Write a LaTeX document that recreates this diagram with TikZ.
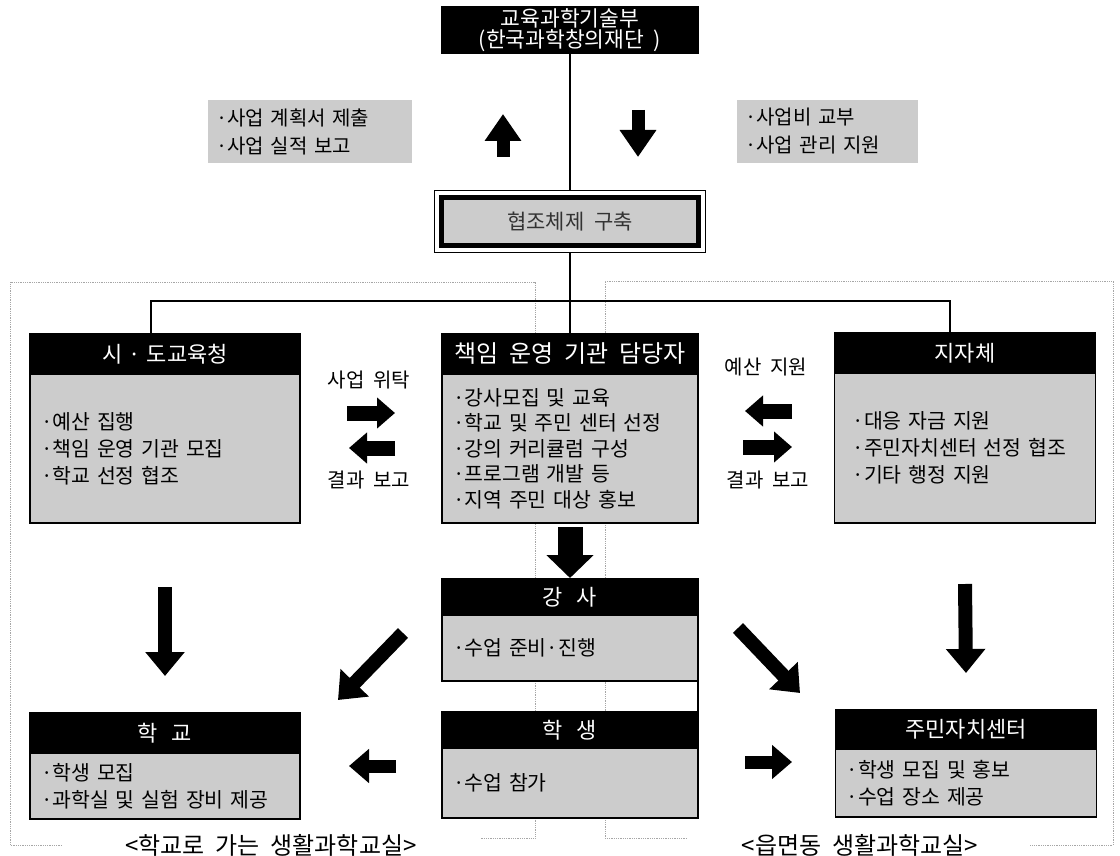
\documentclass[tikz,border=0pt]{standalone}
\usepackage{fontspec}
\setmainfont{Noto Sans CJK KR}[WordSpace=2]
\usetikzlibrary{positioning,arrows.meta}
\definecolor{halftone}{gray}{0.80}
\newcommand{\hdrfont}{\fontsize{22}{24}\selectfont}
\newcommand{\itemfont}{\fontsize{20.5}{27}\selectfont}
\newcommand{\capfont}{\fontsize{24}{26}\selectfont}

\begin{document}
\begin{tikzpicture}[x=1pt,y=-1pt,
  hdr/.style={fill=black, draw=black, line width=1.5pt, text=white, font=\hdrfont, inner sep=0pt, outer sep=0pt},
  bodybox/.style={fill=halftone, draw=black, line width=1.5pt, font=\itemfont, align=left, inner xsep=11pt, inner ysep=0pt, outer sep=0pt},
  labelbox/.style={fill=halftone, font=\fontsize{20}{28}\selectfont, align=left, inner xsep=8pt, inner ysep=0pt},
  flowtext/.style={font=\fontsize{20}{22}\selectfont},
  conn/.style={line width=2.5pt},
  region/.style={gray!70, densely dotted, line width=0.8pt},
  fatarrow/.style={line width=14pt, -{Triangle[width=38pt,length=24pt]}},
  widearrow/.style={line width=25pt, -{Triangle[width=46pt,length=23pt]}},
  toparrow/.style={line width=13pt, -{Triangle[width=35pt,length=27pt]}},
  sidearrow/.style={line width=15pt, -{Triangle[width=30pt,length=18pt]}},
  lowarrow/.style={line width=13pt, -{Triangle[width=33pt,length=20pt]}}]
\useasboundingbox (0,0) rectangle (1120,856);

% ---- dotted regions
\draw[region] (62,845) -- (10,845) -- (10,282) -- (535,282) -- (535,838) -- (480,838);
\draw[region] (687,838) -- (605,838) -- (605,281) -- (1113,281) -- (1113,845) -- (1030,845);

% ---- ministry and cooperation box
\node[hdr, minimum width=256pt, minimum height=46pt, align=center, font=\fontsize{21.5}{21}\selectfont] (mest) at (570,30) {교육과학기술부\\(한국과학창의재단 )};
\node[labelbox, text width=188pt, minimum height=63pt] (plan) at (310,131.5) {·사업 계획서 제출\\·사업 실적 보고};
\node[labelbox, text width=165pt, minimum height=63pt] (fund) at (827.5,131.5) {·사업비 교부\\·사업 관리 지원};
\coordinate (up1) at (503,157);
\coordinate (up2) at (503,114);
\coordinate (dn1) at (638,110);
\coordinate (dn2) at (638,157);
\draw[toparrow] (up1) -- (up2);
\draw[toparrow] (dn1) -- (dn2);

\node[fill=halftone, draw=black, line width=5pt, minimum width=257pt, minimum height=48pt, outer sep=0pt, text=black!80, font=\fontsize{21}{24}\selectfont] (hyup) at (570,221.5) {협조체제 구축};
\draw[line width=1.6pt] ([xshift=-7pt,yshift=7pt]hyup.north west) rectangle ([xshift=7pt,yshift=-7pt]hyup.south east);

% ---- three upper boxes
\node[hdr, minimum width=270pt, minimum height=40pt] (sido) at (165,354) {시\hspace{6pt}·\hspace{6pt}도교육청};
\node[bodybox, text width=248pt, minimum height=149pt, below=0pt of sido] (sidob) {·예산 집행\\·책임 운영 기관 모집\\·학교 선정 협조};

\node[hdr, font=\fontsize{24}{26}\selectfont, minimum width=256pt, minimum height=40pt] (chaek) at (570,354) {책임 운영 기관 담당자};
\node[bodybox, font=\fontsize{20.5}{25.5}\selectfont, text width=234pt, minimum height=149pt, below=0pt of chaek] (chaekb) {·강사모집 및 교육\\·학교 및 주민 센터 선정\\·강의 커리큘럼 구성\\·프로그램 개발 등\\·지역 주민 대상 홍보};

\node[hdr, minimum width=261pt, minimum height=40pt] (jija) at (965,353) {지자체};
\node[bodybox, inner xsep=18pt, text width=225pt, minimum height=150pt, below=0pt of jija] (jijab) {·대응 자금 지원\\·주민자치센터 선정 협조\\·기타 행정 지원};

% ---- connectors
\coordinate (bus) at (570,301);
\draw[conn] (mest.south) -- ([yshift=7pt]hyup.north);
\draw[conn] ([yshift=-7pt]hyup.south) -- (chaek.north);
\draw[conn] ([xshift=-14pt]sido.north) |- (bus) -| ([xshift=-15pt]jija.north);

\node[flowtext] (wituk) at (369,380) {사업 위탁};
\node[flowtext] (bogo1) at (369,480) {결과 보고};
\node[flowtext] (yesan) at (766,367) {예산 지원};
\node[flowtext] (bogo2) at (768,480) {결과 보고};
\coordinate (w1) at (347,413);
\coordinate (w2) at (395,413);
\coordinate (b1) at (395,448);
\coordinate (b2) at (349,448);
\coordinate (y1) at (792,411);
\coordinate (y2) at (745,411);
\coordinate (r1) at (743,447);
\coordinate (r2) at (792,447);
\draw[sidearrow] (w1) -- (w2);
\draw[sidearrow] (b1) -- (b2);
\draw[sidearrow] (y1) -- (y2);
\draw[sidearrow] (r1) -- (r2);

% ---- lower boxes
\node[hdr, minimum width=256pt, minimum height=36pt] (gangsa) at (570,597) {강\hspace{14pt}사};
\node[bodybox, text width=234pt, minimum height=66pt, below=0pt of gangsa] (gangsab) {·수업 준비·진행};

\node[hdr, minimum width=256pt, minimum height=36pt] (haksaeng) at (570,730) {학\hspace{14pt}생};
\node[bodybox, text width=234pt, minimum height=70pt, below=0pt of haksaeng] (haksaengb) {·수업 참가};
\draw[conn] (gangsab.south east) -- (haksaeng.north east);

\node[hdr, minimum width=270pt, minimum height=40pt] (hakgyo) at (165,733) {학\hspace{14pt}교};
\node[bodybox, text width=248pt, minimum height=66pt, below=0pt of hakgyo] (hakgyob) {·학생 모집\\·과학실 및 실험 장비 제공};

\node[hdr, minimum width=261pt, minimum height=39pt] (jumin) at (966,729.5) {주민자치센터};
\node[bodybox, text width=239pt, minimum height=68pt, below=0pt of jumin] (juminb) {·학생 모집 및 홍보\\·수업 장소 제공};

% ---- flow arrows
\draw[widearrow] ([yshift=-4pt]chaekb.south) -- ([yshift=1pt]gangsa.north);
\draw[fatarrow] ([yshift=-64pt]sidob.south) -- ([yshift=37pt]hakgyo.north);
\draw[fatarrow] ([yshift=-61pt]jijab.south) -- ([yshift=37pt]jumin.north);
\coordinate (dl1) at (403,633);
\coordinate (dl2) at (338,700);
\coordinate (dr1) at (738,628);
\coordinate (dr2) at (800,693);
\draw[fatarrow] (dl1) -- (dl2);
\draw[fatarrow] (dr1) -- (dr2);
\coordinate (hl1) at (396,766);
\coordinate (hl2) at (349,766);
\coordinate (hr1) at (745,762);
\coordinate (hr2) at (792,762);
\draw[lowarrow] (hl1) -- (hl2);
\draw[lowarrow] (hr1) -- (hr2);

% ---- captions
\node[font=\capfont] (capl) at (271,845) {<학교로 가는 생활과학교실>};
\node[font=\capfont] (capr) at (860,845) {<읍면동 생활과학교실>};
\end{tikzpicture}
\end{document}
